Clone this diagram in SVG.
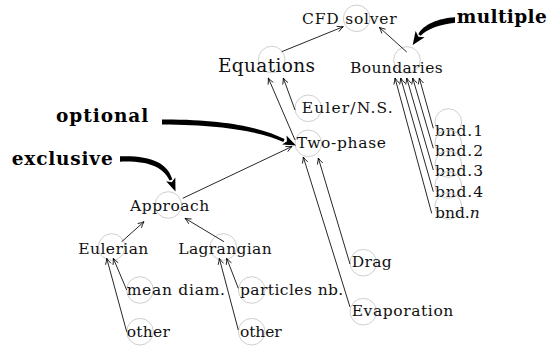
<svg xmlns="http://www.w3.org/2000/svg" width="558" height="347" viewBox="0 0 558 347">
<style>
.c{fill:none;stroke:#c8c8c8;stroke-width:0.9}
.t{font-family:"DejaVu Serif","Liberation Serif",serif;font-size:15.5px;fill:#111}
.big{font-size:18.5px}
.b{font-family:"DejaVu Serif","Liberation Serif",serif;font-size:18.5px;font-weight:bold;fill:#000}
.e{fill:none;stroke:#000;stroke-width:0.85;marker-end:url(#ah)}
.k{fill:#000;stroke:none}
</style>
<defs>
<marker id="ah" viewBox="-7 -4 8 8" refX="0" refY="0" markerWidth="8" markerHeight="8" orient="auto" markerUnits="userSpaceOnUse">
<path d="M-6,-2.8 Q-2.5,-0.8 0,0 Q-2.5,0.8 -6,2.8" fill="none" stroke="#000" stroke-width="0.8"/>
</marker>
</defs>
<g id="cfd"><circle class="c" cx="356.7" cy="18.3" r="13.3"/><text class="t" x="302" y="24" textLength="94.7" lengthAdjust="spacing">CFD solver</text></g>
<g id="equations"><circle class="c" cx="271.7" cy="59.5" r="13.3"/><text class="t big" x="218" y="71.7" textLength="97" lengthAdjust="spacing">Equations</text></g>
<g id="boundaries"><circle class="c" cx="407" cy="60" r="13.3"/><text class="t" x="350" y="72.5" textLength="92.7" lengthAdjust="spacing">Boundaries</text></g>
<g id="euler-ns"><circle class="c" cx="308.3" cy="108.3" r="13.3"/><text class="t" x="301.7" y="113" textLength="91" lengthAdjust="spacing">Euler/N.S.</text></g>
<g id="two-phase"><circle class="c" cx="308.3" cy="143.3" r="13.3"/><text class="t" x="296.7" y="148" textLength="89.3" lengthAdjust="spacing">Two-phase</text></g>
<g id="bnd1"><circle class="c" cx="448.3" cy="122" r="13.3"/><text class="t" x="435" y="136" textLength="48" lengthAdjust="spacing">bnd.1</text></g>
<g id="bnd2"><circle class="c" cx="448.3" cy="143" r="13.3"/><text class="t" x="435" y="156" textLength="48" lengthAdjust="spacing">bnd.2</text></g>
<g id="bnd3"><circle class="c" cx="448.3" cy="164" r="13.3"/><text class="t" x="435" y="176" textLength="48" lengthAdjust="spacing">bnd.3</text></g>
<g id="bnd4"><circle class="c" cx="448.3" cy="185" r="13.3"/><text class="t" x="435" y="196.5" textLength="48" lengthAdjust="spacing">bnd.4</text></g>
<g id="bndn"><circle class="c" cx="448.3" cy="206" r="13.3"/><text class="t" x="435" y="218">bnd.<tspan font-style="italic">n</tspan></text></g>
<g id="drag"><circle class="c" cx="363.3" cy="262.7" r="13.3"/><text class="t" x="351.7" y="267" textLength="40" lengthAdjust="spacing">Drag</text></g>
<g id="evaporation"><circle class="c" cx="363.3" cy="311.7" r="13.3"/><text class="t" x="351.7" y="315.5" textLength="101.6" lengthAdjust="spacing">Evaporation</text></g>
<g id="approach"><circle class="c" cx="168.3" cy="205" r="13.3"/><text class="t" x="130" y="210.7" textLength="79.3" lengthAdjust="spacing">Approach</text></g>
<g id="eulerian"><circle class="c" cx="111.7" cy="247" r="13.3"/><text class="t" x="78.3" y="253.5" textLength="70" lengthAdjust="spacing">Eulerian</text></g>
<g id="lagrangian"><circle class="c" cx="223.3" cy="247" r="13.3"/><text class="t" x="178.3" y="253.5" textLength="93.4" lengthAdjust="spacing">Lagrangian</text></g>
<g id="mean-diam"><circle class="c" cx="140" cy="290" r="13.3"/><text class="t" x="126.7" y="295" textLength="98.3" lengthAdjust="spacing">mean diam.</text></g>
<g id="particles-nb"><circle class="c" cx="251.7" cy="290" r="13.3"/><text class="t" x="240" y="295" textLength="103.3" lengthAdjust="spacing">particles nb.</text></g>
<g id="other-e"><circle class="c" cx="140" cy="331.7" r="13.3"/><text class="t" x="126.7" y="337" textLength="43.3" lengthAdjust="spacing">other</text></g>
<g id="other-l"><circle class="c" cx="251.7" cy="331.7" r="13.3"/><text class="t" x="240" y="337" textLength="41.7" lengthAdjust="spacing">other</text></g>
<g id="connectors">
<line class="e" x1="281.7" y1="51.7" x2="343.3" y2="26.7"/>
<line class="e" x1="406.7" y1="52" x2="379.3" y2="27.3"/>
<line class="e" x1="295" y1="110" x2="283.3" y2="78"/>
<line class="e" x1="295" y1="140" x2="268.3" y2="78"/>
<line class="e" x1="433.3" y1="128.3" x2="419.3" y2="78"/>
<line class="e" x1="433.3" y1="148.3" x2="412.7" y2="78"/>
<line class="e" x1="433.3" y1="170" x2="406.7" y2="78"/>
<line class="e" x1="433.3" y1="191.7" x2="400.7" y2="78"/>
<line class="e" x1="431.7" y1="213.3" x2="395" y2="78"/>
<line class="e" x1="350" y1="264" x2="318.3" y2="158"/>
<line class="e" x1="350" y1="307" x2="303.3" y2="157"/>
<line class="e" x1="182.7" y1="198.3" x2="292" y2="146.5"/>
<line class="e" x1="121.7" y1="241.7" x2="144" y2="221.7"/>
<line class="e" x1="224" y1="241.7" x2="185" y2="218.3"/>
<line class="e" x1="126.7" y1="290" x2="113.3" y2="258.3"/>
<line class="e" x1="126.7" y1="331.7" x2="106.7" y2="258.3"/>
<line class="e" x1="238.3" y1="288.3" x2="226.7" y2="258.3"/>
<line class="e" x1="238.3" y1="330" x2="219.3" y2="258.3"/>
</g>
<g id="annotations">
<text class="b" x="56" y="121.7" textLength="92.3" lengthAdjust="spacing">optional</text>
<path class="k" d="M162,119.5 C225,119.2 262.5,127.8 284.6,139.1 L283.4,141.9 C261.5,132.2 225,124.8 162,124.5 Z"/>
<polygon class="k" points="286.5,135.4 296,145.5 282.2,144.4 287,141.2"/>
<text class="b" x="11.7" y="165" textLength="101" lengthAdjust="spacing">exclusive</text>
<path class="k" d="M120,156.3 C151,155.3 167.5,163 172.4,179.4 L169.6,180.6 C163,167 149,160.7 120,161.7 Z"/>
<polygon class="k" points="175.3,177.5 175.5,191.5 166.1,181.3 171.8,182.2"/>
<text class="b" x="456.7" y="23" textLength="90" lengthAdjust="spacing">multiple</text>
<path class="k" d="M455,17.2 C439,18 423,24.5 418.3,34.2 L420.7,35.8 C426,29.5 441,24 455,22.8 Z"/>
<polygon class="k" points="415.6,31.1 412.7,44.9 424.6,37.3 418.4,36.7"/>
</g>
</svg>
